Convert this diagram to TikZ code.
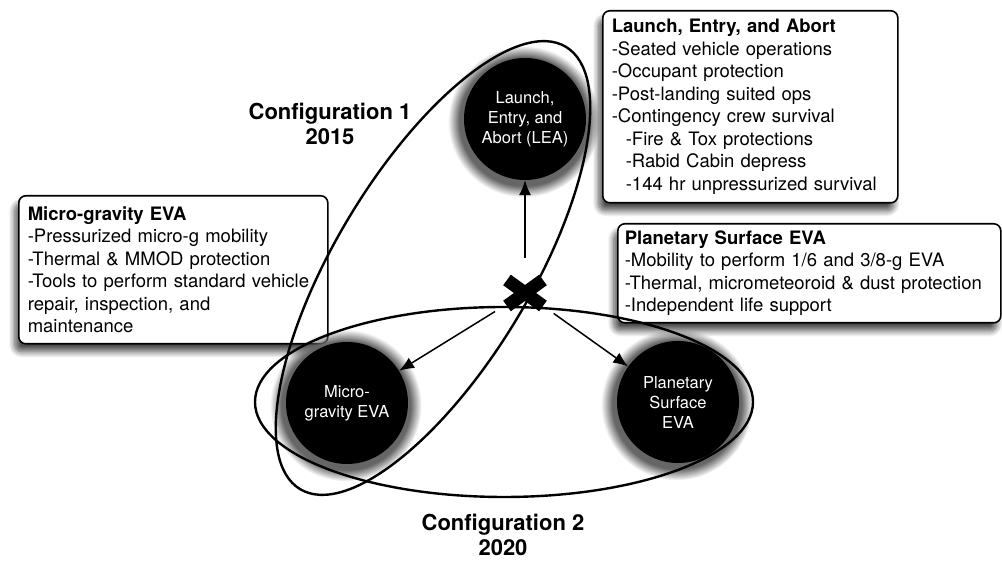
\documentclass[tikz,border=0pt]{standalone}
\usepackage{fontspec}
\setmainfont{TeX Gyre Heros}
\usetikzlibrary{positioning, arrows.meta, shadows, shadows.blur, fadings, calc}

\tikzset{
  phase/.style={circle, fill=black, text=white, minimum size=122pt, inner sep=0pt,
    align=center, font=\fontsize{16.5}{20}\selectfont,
    circular drop shadow={shadow scale=1.24, shadow xshift=-1pt, shadow yshift=-2pt, fill=black!60}},
  infobox/.style={draw, line width=1.6pt, fill=white, rounded corners=7pt, anchor=north west,
    align=left, inner xsep=9pt, font=\fontsize{18.5}{22.5}\selectfont,
    blur shadow={shadow xshift=-4pt, shadow yshift=-8pt, shadow blur radius=6pt,
      shadow blur steps=10, shadow opacity=70}},
  config/.style={align=center, font=\bfseries\fontsize{22}{25}\selectfont},
  hub/.style={circle, minimum size=70pt, inner sep=0pt},
  cfgring/.style={line width=2.4pt},
  xmark/.style={line width=13pt, black},
}

\begin{document}
\begin{tikzpicture}[x=1pt, y=1pt, on grid, >={Latex[length=15pt, width=12pt]}]
    \useasboundingbox (0,0) rectangle (1002,561);

    % info boxes
    \node[infobox, text width=277pt, minimum height=192pt] (leabox) at (602,551)
      {\textbf{Launch, Entry, and Abort}\\
       -Seated vehicle operations\\
       -Occupant protection\\
       -Post-landing suited ops\\
       -Contingency crew survival\\
       \hspace*{14pt}-Fire \& Tox protections\\
       \hspace*{14pt}-Rabid Cabin depress\\
       \hspace*{14pt}-144 hr unpressurized survival};
    \node[infobox, text width=291pt, minimum height=148pt] (microbox) at (18,366)
      {\textbf{Micro-gravity EVA}\\
       -Pressurized micro-g mobility\\
       -Thermal \& MMOD protection\\
       -Tools to perform standard vehicle\\
       repair, inspection, and\\
       maintenance};
    \node[infobox, inner xsep=7pt, text width=369pt, minimum height=99pt] (planetbox) at (617,338)
      {\textbf{Planetary Surface EVA}\\
       -Mobility to perform 1/6 and 3/8-g EVA\\
       -Thermal, micrometeoroid \& dust protection\\
       -Independent life support};

    % phases
    \node[hub] (x) at (525,268) {};
    \node[phase] (lea) [above=174pt of x] {Launch,\\Entry, and\\Abort (LEA)};
    \node[phase] (micro) [below left=110pt and 178pt of x] {Micro-\\gravity EVA};
    \node[phase] (planet) [below right=109pt and 153pt of x] {Planetary\\Surface\\EVA};

    \node[config] (cfg1) at (330,437) {Configuration 1\\2015};
    \node[config] (cfg2) at (503,26) {Configuration 2\\2020};

    % configuration rings
    \draw[cfgring, rotate around={59:(433,293)}] (433,293) ellipse [x radius=258pt, y radius=98pt];
    \draw[cfgring] (504,159) ellipse [x radius=249pt, y radius=95pt];

    \draw[->, line width=1.5pt] (x) -- (lea);
    \draw[->, line width=1.5pt] (x) -- (micro);
    \draw[->, line width=1.5pt] (x) -- (planet);

    \draw[xmark] ($(x)+(-18,-13)$) -- ($(x)+(18,13)$);
    \draw[xmark] ($(x)+(-18,13)$) -- ($(x)+(18,-13)$);
\end{tikzpicture}
\end{document}
